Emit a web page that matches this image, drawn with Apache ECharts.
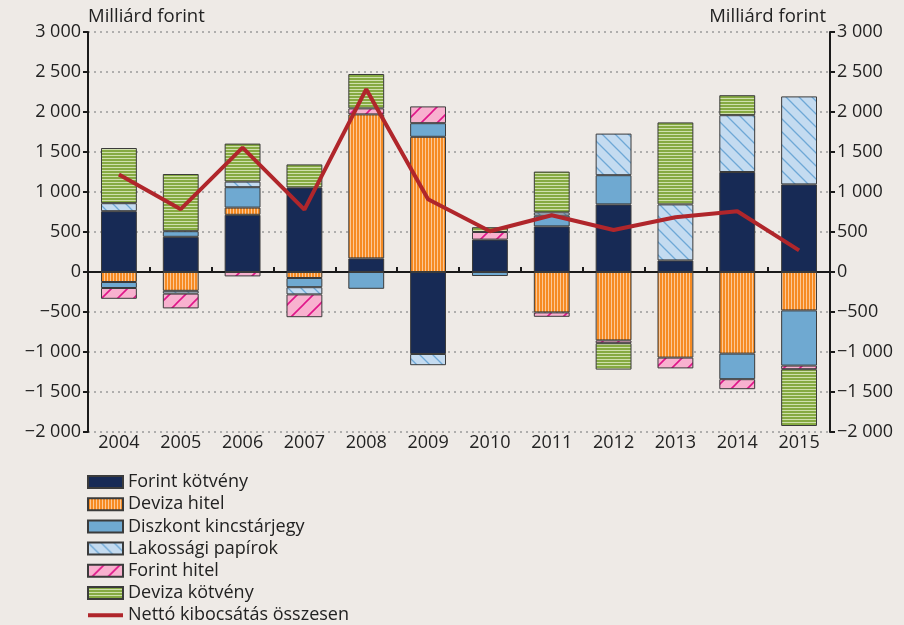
<!DOCTYPE html>
<html><head><meta charset="utf-8">
<script src="https://cdn.jsdelivr.net/npm/echarts@6/dist/echarts.min.js"></script>
<style>html,body{margin:0;padding:0;background:#eeeae6;}#c{width:904px;height:625px;}</style>
</head><body><div id="c"></div>
<script>
const categories = ['2004','2005','2006','2007','2008','2009','2010','2011','2012','2013','2014','2015'];
const forintKotveny = [760, 440, 715, 1055, 170, -1025, 405, 570, 845, 145, 1250, 1095];
const devizaHitel   = [-125, -235, 90, -75, 1800, 1690, null, -505, -855, -1070, -1020, -480];
const diszkont      = [-75, 70, 255, -115, -210, 170, -50, 135, 365, null, -320, -690];
const lakossagi     = [100, -35, 70, -90, null, -140, null, 40, 520, 700, 710, 1100];
const forintHitel   = [-135, -185, -55, -285, 75, 210, 95, -55, -35, -135, -125, -45];
const devizaKotveny = [690, 715, 475, 290, 430, null, 60, 510, -330, 1025, 250, -710];
const netto         = [1220, 785, 1555, 780, 2285, 910, 510, 710, 525, 685, 760, 270];
const yTicks = {min: -2000, max: 3000, interval: 500};

function tile(w, h, fn) {
  const c = document.createElement('canvas'); c.width = w; c.height = h;
  fn(c.getContext('2d'), w, h); return c;
}
const orangePat = tile(3, 3, (g) => { g.fillStyle = '#f68b23'; g.fillRect(0,0,3,3); g.fillStyle = '#fcc896'; g.fillRect(2,0,1,3); });
const greenPat = tile(3, 3, (g) => { g.fillStyle = '#86aa42'; g.fillRect(0,0,3,3); g.fillStyle = '#cfe0ac'; g.fillRect(0,2,3,1); });
const lakPat = tile(13, 13, (g, s) => {
  g.fillStyle = '#c4dbf0'; g.fillRect(0,0,s,s);
  g.strokeStyle = '#6ea8d6'; g.lineWidth = 1.3;
  g.beginPath(); g.moveTo(0,0); g.lineTo(s,s); g.moveTo(-2,s-2); g.lineTo(2,s+2); g.moveTo(s-2,-2); g.lineTo(s+2,2); g.stroke();
});
const pinkPat = tile(16, 16, (g, s) => {
  g.fillStyle = '#f8b1cf'; g.fillRect(0,0,s,s);
  g.strokeStyle = '#e0168a'; g.lineWidth = 1.6;
  g.beginPath(); g.moveTo(0,s); g.lineTo(s,0); g.moveTo(-2,2); g.lineTo(2,-2); g.moveTo(s-2,s+2); g.lineTo(s+2,s-2); g.stroke();
});

const FONT = 'Open Sans';
function fmt(v) {
  const s = Math.abs(v).toString().replace(/\B(?=(\d{3})+(?!\d))/g, ' ');
  return (v < 0 ? '\u2212' : '') + s;
}
function bar(name, data, color) {
  return {
    name, type: 'bar', stack: 'all', data, barWidth: '58%',
    itemStyle: {color, borderColor: '#3b3b3b', borderWidth: 1},
    emphasis: {disabled: true}
  };
}
const chart = echarts.init(document.getElementById('c'));
const yAxisBase = {
  type: 'value', min: yTicks.min, max: yTicks.max, interval: yTicks.interval,
  axisLine: {show: true, lineStyle: {color: '#1a1a1a', width: 2}},
  axisTick: {show: true, length: 5, lineStyle: {color: '#1a1a1a', width: 2}},
  axisLabel: {formatter: fmt, fontFamily: FONT, fontSize: 18, color: '#222', margin: 7}
};
chart.setOption({
  backgroundColor: '#eeeae6',
  animation: false,
  textStyle: {fontFamily: FONT},
  grid: {left: 88, right: 74, top: 32, bottom: 193},
  xAxis: [
    {type: 'category', data: categories, position: 'bottom',
     axisLine: {show: false, onZero: false}, axisTick: {show: false},
     axisLabel: {fontFamily: FONT, fontSize: 18, color: '#222', margin: 2}},
    {type: 'category', data: categories,
     axisLine: {show: true, onZero: true, lineStyle: {color: '#1a1a1a', width: 2}},
     axisTick: {show: true, length: 5, lineStyle: {color: '#1a1a1a', width: 2}},
     axisLabel: {show: false}}
  ],
  yAxis: [
    Object.assign({}, yAxisBase, {position: 'left',
      splitLine: {show: true, lineStyle: {color: '#9a9a9a', width: 1.5, type: [2, 4]}}}),
    Object.assign({}, yAxisBase, {position: 'right', splitLine: {show: false}})
  ],
  legend: {
    orient: 'vertical', left: 87, top: 473, height: 200, padding: 0,
    itemWidth: 35, itemHeight: 12, itemGap: 4.2, icon: 'rect',
    textStyle: {fontFamily: FONT, fontSize: 18, color: '#222'},
    data: ['Forint kötvény','Deviza hitel','Diszkont kincstárjegy','Lakossági papírok','Forint hitel','Deviza kötvény',
      {name: 'Nettó kibocsátás összesen', icon: 'path://M0,0H36V4H0Z'}]
  },
  graphic: [
    {type: 'text', left: 88, top: 7, style: {text: 'Milliárd forint', font: '18.5px "Open Sans"', fill: '#222'}},
    {type: 'text', right: 78, top: 7, style: {text: 'Milliárd forint', font: '18.5px "Open Sans"', fill: '#222', textAlign: 'right'}}
  ],
  series: [
    bar('Forint kötvény', forintKotveny, '#172a55'),
    bar('Deviza hitel', devizaHitel, {image: orangePat, repeat: 'repeat'}),
    bar('Diszkont kincstárjegy', diszkont, '#6fa9d1'),
    bar('Lakossági papírok', lakossagi, {image: lakPat, repeat: 'repeat'}),
    bar('Forint hitel', forintHitel, {image: pinkPat, repeat: 'repeat'}),
    bar('Deviza kötvény', devizaKotveny, {image: greenPat, repeat: 'repeat'}),
    {name: 'Nettó kibocsátás összesen', type: 'line', data: netto, symbol: 'none', z: 10,
     lineStyle: {color: '#b0262b', width: 4}, itemStyle: {color: '#b0262b'}, emphasis: {disabled: true}}
  ]
});
</script></body></html>
